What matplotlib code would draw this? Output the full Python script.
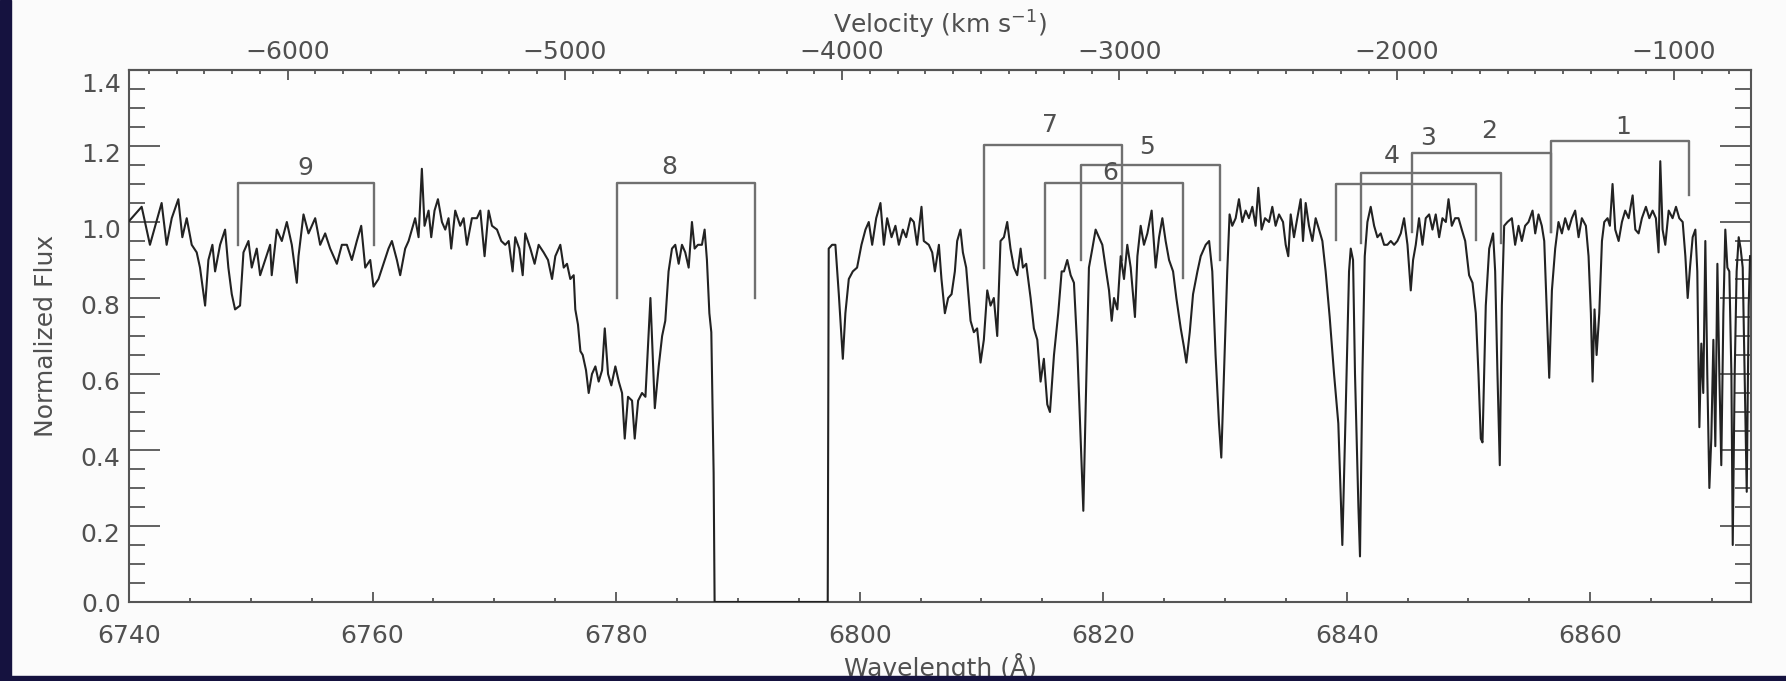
import matplotlib
matplotlib.use('Agg')
import matplotlib.pyplot as plt
import matplotlib.transforms as mtransforms
from matplotlib.patches import Rectangle
from matplotlib.ticker import MultipleLocator, FixedLocator, FuncFormatter

# spectrum (wavelength in A, normalized flux)
WAVELENGTH = [
    # 6740 - 6762
    6739.94, 6741.04, 6741.72, 6742.68, 6743.09, 6743.51, 6744.05, 6744.38, 6744.74, 6745.15,
    6745.56, 6745.83, 6746.25, 6746.52, 6746.85, 6747.07, 6747.48, 6747.89, 6748.16, 6748.44,
    6748.71, 6749.12, 6749.40, 6749.81, 6750.08, 6750.49, 6750.77, 6751.18, 6751.59, 6751.72,
    6752.14, 6752.55, 6752.96, 6753.37, 6753.78, 6753.92, 6754.33, 6754.74, 6755.29, 6755.70,
    6756.11, 6756.52, 6757.07, 6757.48, 6757.89, 6758.30, 6758.71, 6759.07, 6759.40, 6759.81,
    6760.08, 6760.49, 6760.90, 6761.31, 6761.59, 6762.00,
    # 6762 - 6784
    6762.27, 6762.68, 6762.96, 6763.23, 6763.50, 6763.78, 6764.05, 6764.27, 6764.60, 6764.82,
    6765.09, 6765.37, 6765.70, 6765.97, 6766.24, 6766.46, 6766.79, 6767.20, 6767.48, 6767.75,
    6768.16, 6768.57, 6768.85, 6769.20, 6769.53, 6769.81, 6770.22, 6770.57, 6770.90, 6771.18,
    6771.50, 6771.72, 6772.05, 6772.33, 6772.54, 6772.96, 6773.31, 6773.64, 6774.05, 6774.41,
    6774.74, 6775.01, 6775.42, 6775.70, 6775.97, 6776.24, 6776.52, 6776.65, 6776.87, 6777.07,
    6777.26, 6777.53, 6777.75, 6778.02, 6778.30, 6778.57, 6778.85, 6779.07, 6779.34, 6779.61,
    6779.94, 6780.22, 6780.49, 6780.71, 6780.98, 6781.31, 6781.53, 6781.81, 6782.13, 6782.41,
    6782.82, 6783.18, 6783.50, 6783.78,
    # 6784 - 6806 (detector gap at zero)
    6784.04, 6784.31, 6784.59, 6784.86, 6785.14, 6785.41, 6785.68, 6785.96, 6786.23, 6786.45,
    6786.72, 6787.05, 6787.27, 6787.46, 6787.66, 6787.82, 6788.01, 6788.09, 6797.38, 6797.46,
    6797.74, 6798.01, 6798.29, 6798.62, 6798.83, 6799.11, 6799.44, 6799.79, 6800.15, 6800.48,
    6800.75, 6801.03, 6801.36, 6801.71, 6801.99, 6802.26, 6802.62, 6802.94, 6803.22, 6803.55,
    6803.82, 6804.18, 6804.45, 6804.72, 6805.08, 6805.27, 6805.68, 6805.96, 6806.18, 6806.51,
    # 6806 - 6829
    6806.72, 6807.00, 6807.27, 6807.55, 6807.82, 6808.01, 6808.28, 6808.48, 6808.75, 6809.11,
    6809.38, 6809.65, 6809.93, 6810.20, 6810.48, 6810.75, 6811.02, 6811.30, 6811.57, 6811.85,
    6812.12, 6812.39, 6812.67, 6812.94, 6813.22, 6813.41, 6813.68, 6814.04, 6814.31, 6814.59,
    6814.86, 6815.13, 6815.41, 6815.63, 6815.96, 6816.31, 6816.59, 6816.78, 6817.05, 6817.33,
    6817.60, 6817.87, 6818.15, 6818.37, 6818.56, 6818.83, 6819.11, 6819.38, 6819.65, 6819.93,
    6820.20, 6820.48, 6820.70, 6820.89, 6821.16, 6821.44, 6821.71, 6821.98, 6822.26, 6822.61,
    6822.81, 6823.08, 6823.35, 6823.63, 6823.98, 6824.31, 6824.59, 6824.86, 6825.13, 6825.41,
    6825.74, 6826.01, 6826.37, 6826.64, 6826.83, 6827.11, 6827.38, 6827.74, 6828.01, 6828.42,
    6828.70,
    # 6829 - 6851
    6828.96, 6829.23, 6829.51, 6829.70, 6829.92, 6830.19, 6830.38, 6830.60, 6830.88, 6831.15,
    6831.42, 6831.70, 6831.97, 6832.25, 6832.52, 6832.74, 6833.01, 6833.29, 6833.62, 6833.89,
    6834.16, 6834.44, 6834.77, 6834.99, 6835.20, 6835.40, 6835.67, 6835.94, 6836.22, 6836.41,
    6836.63, 6836.90, 6837.18, 6837.45, 6837.73, 6838.00, 6838.27, 6838.60, 6838.96, 6839.31,
    6839.64, 6839.92, 6840.19, 6840.33, 6840.52, 6840.68, 6840.96, 6841.09, 6841.29, 6841.48,
    6841.70, 6841.97, 6842.25, 6842.52, 6842.79, 6843.07, 6843.34, 6843.62, 6843.89, 6844.16,
    6844.44, 6844.71, 6844.99, 6845.26, 6845.45, 6845.67, 6845.94, 6846.22, 6846.49, 6846.77,
    6847.04, 6847.31, 6847.59, 6847.86, 6848.14, 6848.36, 6848.63, 6848.90, 6849.18, 6849.45,
    6849.73, 6850.05, 6850.33, 6850.60, 6850.82, 6851.01,
    # 6851 - 6873
    6851.15, 6851.42, 6851.70, 6852.02, 6852.19, 6852.38, 6852.57, 6852.74, 6852.93, 6853.20,
    6853.56, 6853.83, 6854.11, 6854.38, 6854.65, 6854.93, 6855.26, 6855.48, 6855.75, 6856.02,
    6856.22, 6856.41, 6856.63, 6856.85, 6857.12, 6857.39, 6857.67, 6857.94, 6858.22, 6858.49,
    6858.76, 6859.04, 6859.31, 6859.64, 6859.86, 6860.05, 6860.19, 6860.35, 6860.52, 6860.74,
    6860.96, 6861.15, 6861.42, 6861.61, 6861.83, 6862.05, 6862.33, 6862.60, 6862.87, 6863.15,
    6863.48, 6863.70, 6863.97, 6864.24, 6864.57, 6864.85, 6865.12, 6865.39, 6865.61, 6865.75,
    6865.94, 6866.16, 6866.44, 6866.76, 6867.04, 6867.31, 6867.59, 6867.81, 6868.00, 6868.19,
    6868.41, 6868.63, 6868.79, 6868.96, 6869.12, 6869.28, 6869.45, 6869.61, 6869.78, 6869.94,
    6870.11, 6870.27, 6870.44, 6870.60, 6870.76, 6870.93, 6871.09, 6871.26, 6871.42, 6871.59,
    6871.70, 6871.86, 6872.02, 6872.19, 6872.35, 6872.52, 6872.68, 6872.85, 6873.01, 6873.12,
]

FLUX = [
    1.00, 1.04, 0.94, 1.05, 0.94, 1.01, 1.06, 0.96, 1.01, 0.94,
    0.92, 0.88, 0.78, 0.90, 0.94, 0.87, 0.94, 0.98, 0.88, 0.81,
    0.77, 0.78, 0.92, 0.95, 0.88, 0.93, 0.86, 0.90, 0.94, 0.86,
    0.98, 0.95, 1.00, 0.94, 0.84, 0.91, 1.02, 0.97, 1.01, 0.94,
    0.97, 0.93, 0.89, 0.94, 0.94, 0.90, 0.95, 0.99, 0.88, 0.90,
    0.83, 0.85, 0.89, 0.93, 0.95, 0.90,

    0.86, 0.93, 0.95, 0.98, 1.01, 0.96, 1.14, 0.99, 1.03, 0.96,
    1.03, 1.06, 1.00, 0.98, 1.01, 0.93, 1.03, 0.99, 1.01, 0.94,
    1.01, 1.01, 1.03, 0.91, 1.03, 0.99, 0.98, 0.95, 0.94, 0.95,
    0.87, 0.96, 0.93, 0.86, 0.97, 0.93, 0.89, 0.94, 0.92, 0.90,
    0.85, 0.91, 0.94, 0.88, 0.89, 0.85, 0.86, 0.77, 0.73, 0.66,
    0.65, 0.61, 0.55, 0.60, 0.62, 0.58, 0.61, 0.72, 0.60, 0.57,
    0.62, 0.58, 0.55, 0.43, 0.54, 0.53, 0.43, 0.53, 0.55, 0.54,
    0.80, 0.51, 0.62, 0.70,

    0.74, 0.87, 0.93, 0.94, 0.89, 0.94, 0.92, 0.88, 1.00, 0.93,
    0.94, 0.94, 0.98, 0.90, 0.76, 0.71, 0.34, 0.00, 0.00, 0.93,
    0.94, 0.94, 0.81, 0.64, 0.76, 0.85, 0.87, 0.88, 0.94, 0.98,
    1.00, 0.94, 1.01, 1.05, 0.94, 1.01, 0.96, 0.99, 0.94, 0.98,
    0.96, 1.01, 1.00, 0.94, 1.04, 0.95, 0.94, 0.92, 0.87, 0.94,

    0.85, 0.76, 0.80, 0.81, 0.87, 0.95, 0.98, 0.92, 0.88, 0.74,
    0.71, 0.72, 0.63, 0.69, 0.82, 0.78, 0.80, 0.70, 0.95, 0.96,
    1.00, 0.93, 0.88, 0.86, 0.93, 0.88, 0.89, 0.80, 0.72, 0.69,
    0.58, 0.64, 0.52, 0.50, 0.65, 0.76, 0.87, 0.87, 0.90, 0.86,
    0.84, 0.67, 0.43, 0.24, 0.51, 0.88, 0.93, 0.98, 0.96, 0.94,
    0.88, 0.82, 0.74, 0.80, 0.77, 0.91, 0.85, 0.94, 0.88, 0.75,
    0.91, 0.99, 0.94, 0.97, 1.03, 0.88, 0.96, 1.01, 0.95, 0.90,
    0.87, 0.80, 0.72, 0.67, 0.63, 0.71, 0.81, 0.87, 0.91, 0.94,
    0.95,

    0.87, 0.65, 0.47, 0.38, 0.60, 0.87, 1.02, 0.99, 1.01, 1.06,
    1.00, 1.03, 1.01, 1.04, 0.99, 1.09, 0.98, 1.01, 1.00, 1.04,
    0.99, 1.02, 1.00, 0.94, 0.91, 1.02, 0.96, 1.01, 1.06, 0.95,
    1.05, 0.99, 0.95, 1.01, 0.98, 0.95, 0.87, 0.75, 0.60, 0.47,
    0.15, 0.51, 0.87, 0.93, 0.90, 0.60, 0.25, 0.12, 0.60, 0.91,
    1.00, 1.04, 0.99, 0.96, 0.97, 0.94, 0.94, 0.95, 0.94, 0.95,
    0.97, 1.01, 0.94, 0.82, 0.90, 0.94, 1.01, 0.94, 1.01, 1.02,
    0.98, 1.02, 0.96, 1.01, 1.00, 1.06, 0.99, 1.01, 1.01, 0.98,
    0.95, 0.86, 0.84, 0.76, 0.60, 0.43,

    0.42, 0.78, 0.93, 0.97, 0.87, 0.60, 0.36, 0.78, 0.99, 1.00,
    1.01, 0.94, 0.99, 0.95, 0.99, 1.00, 1.03, 0.97, 1.02, 0.99,
    0.95, 0.78, 0.59, 0.82, 0.93, 1.00, 0.97, 1.01, 0.98, 1.01,
    1.03, 0.96, 1.01, 0.99, 0.91, 0.76, 0.58, 0.77, 0.65, 0.76,
    0.95, 1.00, 1.01, 0.99, 1.10, 0.98, 0.95, 1.00, 1.03, 1.01,
    1.07, 0.98, 0.97, 1.01, 1.04, 1.01, 1.03, 1.01, 0.92, 1.16,
    0.98, 0.94, 1.03, 1.01, 1.04, 1.01, 1.00, 0.91, 0.80, 0.88,
    0.96, 0.98, 0.87, 0.46, 0.68, 0.55, 0.95, 0.60, 0.30, 0.43,
    0.69, 0.41, 0.89, 0.60, 0.36, 0.76, 0.98, 0.88, 0.87, 0.60,
    0.15, 0.60, 0.87, 0.96, 0.93, 0.88, 0.60, 0.29, 0.78, 0.91,
]

# line identification brackets
LINE_IDS = ['1', '2', '3', '4', '5', '6', '7', '8', '9']
BLUE_LEG = [6856.76, 6845.40, 6841.15, 6839.15, 6818.20, 6815.22, 6810.20, 6780.08, 6748.99]
RED_LEG = [6868.13, 6856.76, 6852.65, 6850.60, 6829.56, 6826.56, 6821.52, 6791.38, 6760.08]
BAR_LEVEL = [1.212, 1.181, 1.130, 1.100, 1.150, 1.102, 1.203, 1.102, 1.102]
BLUE_END = [0.975, 0.975, 0.944, 0.953, 0.900, 0.852, 0.878, 0.799, 0.939]
RED_END = [1.071, 0.975, 0.944, 0.953, 0.900, 0.852, 0.900, 0.799, 0.939]
LABEL_WL = [6862.7, 6851.7, 6846.7, 6843.7, 6823.6, 6820.6, 6815.6, 6784.4, 6754.5]
LABEL_FLUX = [1.250, 1.240, 1.221, 1.173, 1.198, 1.129, 1.254, 1.145, 1.143]

Y_TICKS = [0.0, 0.2, 0.4, 0.6, 0.8, 1.0, 1.2, 1.4]
VEL_TICKS = [-6000, -5000, -4000, -3000, -2000, -1000]

# velocity scale of the top axis (km/s per A, zero point in A)
KMS_PER_A = 43.92
V_ZERO_WL = 6889.64

W, H = 1786, 681
INK = '#505050'
FS = 18


def wl_to_vel(x):
    return (x - V_ZERO_WL) * KMS_PER_A


def vel_to_wl(v):
    return v / KMS_PER_A + V_ZERO_WL


fig = plt.figure(figsize=(W / 100, H / 100), dpi=100)
fig.patch.set_facecolor('#fbfbfb')
ax = fig.add_axes([129 / W, 1 - 602 / H, (1751 - 129) / W, (602 - 70) / H])
ax.set_facecolor('#fdfdfd')

ax.plot(WAVELENGTH, FLUX, color='#222222', lw=1.5, zorder=3)

for i in range(len(LINE_IDS)):
    ax.plot([BLUE_LEG[i], BLUE_LEG[i], RED_LEG[i], RED_LEG[i]],
            [BLUE_END[i], BAR_LEVEL[i], BAR_LEVEL[i], RED_END[i]],
            color='#707070', lw=1.7, zorder=2)
    ax.text(LABEL_WL[i], LABEL_FLUX[i], LINE_IDS[i], ha='center', va='center',
            fontsize=FS, color=INK)

ax.set_xlim(6740, 6873.2)
ax.set_ylim(0, 1.4)

ax.xaxis.set_major_locator(MultipleLocator(20))
ax.xaxis.set_minor_locator(MultipleLocator(5))
ax.xaxis.set_major_formatter(FuncFormatter(lambda v, p: f'{v:.0f}'))
ax.set_yticks(Y_TICKS, labels=[f'{t:.1f}' for t in Y_TICKS])
ax.yaxis.set_minor_locator(MultipleLocator(0.05))

ax.tick_params(axis='x', which='both', direction='in', top=False, bottom=True,
               colors='#555555', labelcolor=INK, labelsize=FS, width=1.3)
ax.tick_params(axis='x', which='major', length=7, pad=16)
ax.tick_params(axis='x', which='minor', length=3)
ax.tick_params(axis='y', which='both', direction='in', left=True, right=True,
               colors='#555555', labelcolor=INK, labelsize=FS, width=1.3, pad=6)
ax.tick_params(axis='y', which='major', length=22)
ax.tick_params(axis='y', which='minor', length=11.5)

for s in ax.spines.values():
    s.set_color('#555555')
    s.set_linewidth(1.5)

# IDL style: labels sit a bit below their ticks, end labels pulled inside
for tick, t in zip(ax.yaxis.get_major_ticks(), Y_TICKS):
    shift = -0.07
    if t == 1.4:
        shift = -0.13
    if t == 0.0:
        shift = 0.0
    off = mtransforms.ScaledTranslation(0, shift, fig.dpi_scale_trans)
    tick.label1.set_transform(tick.label1.get_transform() + off)

secax = ax.secondary_xaxis('top', functions=(wl_to_vel, vel_to_wl))
secax.xaxis.set_major_locator(FixedLocator(VEL_TICKS))
secax.xaxis.set_minor_locator(MultipleLocator(100))
secax.xaxis.set_major_formatter(FuncFormatter(lambda v, p: f'{v:.0f}'.replace('-', '\u2212')))
secax.tick_params(axis='x', which='both', direction='in', colors='#555555',
                  labelcolor=INK, labelsize=FS, width=1.3)
secax.tick_params(axis='x', which='major', length=7, pad=4)
secax.tick_params(axis='x', which='minor', length=3)
for s in secax.spines.values():
    s.set_color('#555555')
    s.set_linewidth(1.5)

fig.text(940 / W, 1 - 25 / H, 'Velocity (km s$^{-1}$)', ha='center', va='center',
         fontsize=FS, color=INK)
fig.text(940 / W, 1 - 667 / H, 'Wavelength (\u00c5)', ha='center', va='center',
         fontsize=FS, color=INK)
fig.text(46 / W, 1 - 336 / H, 'Normalized Flux', ha='center', va='center',
         rotation=90, fontsize=FS, color=INK)

# dark frame strips along the left and bottom edges
fig.add_artist(Rectangle((0, 0), 11 / W, 1, transform=fig.transFigure,
                         color='#15123f', zorder=20))
fig.add_artist(Rectangle((0, 0), 1, 5 / H, transform=fig.transFigure,
                         color='#15123f', zorder=20))

fig.savefig('out.png', dpi=100, facecolor=fig.get_facecolor())
